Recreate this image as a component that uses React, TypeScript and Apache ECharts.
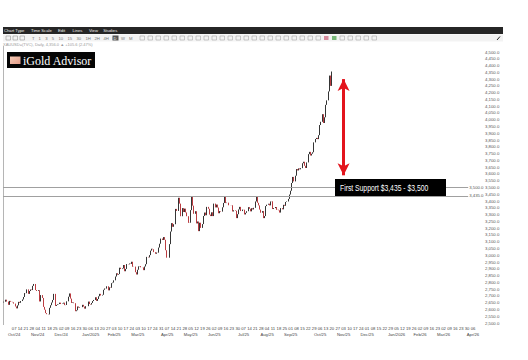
import React, { useEffect, useRef } from 'react';
import * as echarts from 'echarts';

// ---- data ----
const startDate = '2024-09-24';
const totalSessions = 408;
const firstOpen = 2652;

const closeSep24 = [2657, 2657, 2672, 2658, 2634];
const closeOct24 = [2663, 2657, 2656, 2653, 2643, 2622, 2608, 2630, 2656, 2649, 2662, 2674, 2692, 2721, 2720, 2748, 2715, 2736, 2747, 2743, 2774, 2788, 2743];
const closeNov24 = [2736, 2736, 2742, 2659, 2706, 2685, 2619, 2598, 2573, 2565, 2563, 2612, 2631, 2651, 2670, 2715, 2626, 2633, 2638, 2640, 2650];
const closeDec24 = [2640, 2643, 2650, 2632, 2633, 2660, 2694, 2718, 2680, 2648, 2652, 2646, 2587, 2594, 2622, 2613, 2617, 2617, 2634, 2621, 2606, 2624];
const closeJan25 = [2624, 2658, 2640, 2636, 2648, 2662, 2670, 2690, 2663, 2677, 2697, 2715, 2703, 2708, 2745, 2755, 2754, 2771, 2741, 2763, 2760, 2794, 2798];
const closeFeb25 = [2815, 2843, 2867, 2856, 2861, 2908, 2898, 2903, 2928, 2882, 2899, 2935, 2933, 2939, 2936, 2952, 2915, 2916, 2875, 2858];
const closeMar25 = [2893, 2918, 2920, 2911, 2910, 2890, 2917, 2934, 2988, 2984, 3001, 3034, 3048, 3044, 3023, 3011, 3020, 3019, 3057, 3085, 3123];
const closeApr25 = [3113, 3134, 3114, 3037, 2982, 2982, 3082, 3175, 3237, 3210, 3229, 3342, 3327, 3327, 3424, 3381, 3288, 3348, 3319, 3344, 3316, 3288];
const closeMay25 = [3239, 3240, 3333, 3430, 3366, 3306, 3325, 3235, 3249, 3178, 3240, 3202, 3230, 3290, 3315, 3295, 3357, 3343, 3300, 3289, 3317, 3289];
const closeJun25 = [3381, 3353, 3374, 3352, 3310, 3326, 3322, 3354, 3386, 3433, 3385, 3388, 3369, 3369, 3368, 3369, 3323, 3332, 3328, 3274, 3303];
const closeJul25 = [3338, 3357, 3326, 3337, 3336, 3301, 3313, 3325, 3355, 3343, 3324, 3347, 3338, 3350, 3397, 3431, 3387, 3368, 3337, 3314, 3326, 3274, 3289];
const closeAug25 = [3363, 3373, 3380, 3368, 3397, 3398, 3341, 3348, 3356, 3335, 3336, 3332, 3315, 3348, 3339, 3372, 3365, 3393, 3397, 3416, 3448];
const closeSep25 = [3476, 3533, 3578, 3545, 3587, 3636, 3626, 3641, 3634, 3643, 3679, 3690, 3660, 3644, 3685, 3746, 3763, 3736, 3749, 3760, 3833, 3858];
const closeOct25 = [3866, 3857, 3886, 3961, 3985, 4041, 3976, 4018, 4110, 4143, 4209, 4326, 4250, 4356];

const supportLevels = [3500, 3435];
const supportText = 'First Support $3,435 - $3,500';
const arrowDate = '2025-11-03';
const arrowRange = [4300, 3590];
const yMin = 2500;
const yMax = 4500;
const yStep = 50;

const menuItems = ['Chart Type', 'Time Scale', 'Edit', 'Lines', 'View', 'Studies'];
const intervalItems = ['T', '1', '3', '5', '10', '15', '30', '1H', '2H', '4H', '8H'];
const monthNames = ['Jan', 'Feb', 'Mar', 'Apr', 'May', 'Jun', 'Jul', 'Aug', 'Sep', 'Oct', 'Nov', 'Dec'];
const symbolLine = 'XAUUSD=(TVC), Daily, 4,356.0 \u25B2 +105.6 (2.47%)';
const logoText = 'iGold Advisor';

const closes = [
  ...closeSep24, ...closeOct24, ...closeNov24, ...closeDec24, ...closeJan25, ...closeFeb25,
  ...closeMar25, ...closeApr25, ...closeMay25, ...closeJun25, ...closeJul25, ...closeAug25,
  ...closeSep25, ...closeOct25,
];

function buildSessions(start: string, count: number): string[] {
  const out: string[] = [];
  const d = new Date(start + 'T00:00:00Z');
  while (out.length < count) {
    const wd = d.getUTCDay();
    if (wd !== 0 && wd !== 6) out.push(d.toISOString().slice(0, 10));
    d.setUTCDate(d.getUTCDate() + 1);
  }
  return out;
}

const fmt = (v: number) =>
  v.toLocaleString('en-US', { minimumFractionDigits: 1, maximumFractionDigits: 1 });

export default function App() {
  const ref = useRef<HTMLDivElement>(null);

  useEffect(() => {
    if (!ref.current) return;
    const chart = echarts.init(ref.current, null, { renderer: 'svg' });
    const sessions = buildSessions(startDate, totalSessions);
    const candles = closes.map((c, i) => {
      const o = i === 0 ? firstOpen : closes[i - 1];
      return [o, c, Math.min(o, c), Math.max(o, c)];
    });
    const firstMondayIdx = sessions.findIndex(
      (s) => new Date(s + 'T00:00:00Z').getUTCDay() === 1
    );
    const lastClose = closes[closes.length - 1];

    const font = 'Liberation Sans';
    const graphics: any[] = [];
    // toolbar
    graphics.push({ type: 'rect', shape: { x: 3, y: 27, width: 500, height: 7 }, style: { fill: '#262626' } });
    let mx = 4;
    menuItems.forEach((m) => {
      graphics.push({ type: 'text', x: mx, y: 30.5, style: { text: m, fill: '#eee', fontSize: 4.2, fontFamily: font, verticalAlign: 'middle' } });
      mx += m.length * 2.1 + 6;
    });
    graphics.push({ type: 'rect', shape: { x: 3, y: 34.5, width: 500, height: 7 }, style: { fill: '#f3f3f3' } });
    [6, 13, 20].forEach((x) => {
      graphics.push({ type: 'rect', shape: { x, y: 36, width: 4.5, height: 4 }, style: { fill: 'none', stroke: '#999', lineWidth: 0.6 } });
    });
    let ix = 32;
    intervalItems.forEach((t) => {
      graphics.push({ type: 'text', x: ix, y: 38, style: { text: t, fill: '#777', fontSize: 4.2, fontFamily: font, verticalAlign: 'middle' } });
      ix += t.length * 2.4 + 4.2;
    });
    graphics.push({ type: 'rect', shape: { x: 112.5, y: 35.5, width: 6, height: 5 }, style: { fill: '#555' } });
    graphics.push({ type: 'text', x: 113.5, y: 38, style: { text: 'D', fill: '#fff', fontSize: 4, fontFamily: font, verticalAlign: 'middle' } });
    graphics.push({ type: 'text', x: 121, y: 38, style: { text: 'W', fill: '#777', fontSize: 4.2, fontFamily: font, verticalAlign: 'middle' } });
    graphics.push({ type: 'text', x: 129, y: 38, style: { text: 'M', fill: '#777', fontSize: 4.2, fontFamily: font, verticalAlign: 'middle' } });
    for (let x = 140; x <= 376; x += 8) {
      const special = x === 324 ? '#d78b9c' : x === 332 ? '#79b879' : null;
      graphics.push({
        type: 'rect',
        shape: { x, y: 36, width: 4.5, height: 4 },
        style: special ? { fill: special } : { fill: 'none', stroke: '#aaa', lineWidth: 0.6 },
      });
    }
    graphics.push({ type: 'line', shape: { x1: 497, y1: 40, x2: 500, y2: 36.5 }, style: { stroke: '#222', lineWidth: 1 } });
    graphics.push({ type: 'text', x: 3, y: 44.5, style: { text: symbolLine, fill: '#999', fontSize: 4, fontFamily: font, verticalAlign: 'middle' } });
    // logo
    graphics.push({ type: 'rect', shape: { x: 7, y: 52, width: 88, height: 16 }, style: { fill: '#050505' } });
    graphics.push({
      type: 'rect',
      shape: { x: 10, y: 56.5, width: 10.5, height: 7.5 },
      style: {
        fill: new echarts.graphic.LinearGradient(0, 0, 1, 1, [
          { offset: 0, color: '#f6cdb8' },
          { offset: 1, color: '#e39a86' },
        ]),
      },
    });
    graphics.push({ type: 'text', x: 23, y: 60.5, style: { text: logoText, fill: '#fff', fontSize: 12, fontFamily: 'Liberation Serif', verticalAlign: 'middle' } });
    // plot left border
    graphics.push({ type: 'line', shape: { x1: 3.5, y1: 46, x2: 3.5, y2: 325 }, style: { stroke: '#b5b5b5', lineWidth: 1 } });
    // annotation box (above the support lines)
    graphics.push({ type: 'rect', z: 200, shape: { x: 335, y: 179, width: 111, height: 17 }, style: { fill: '#000' } });
    graphics.push({
      type: 'group',
      z: 201,
      x: 340,
      y: 187.8,
      scaleX: 0.79,
      children: [
        { type: 'text', z: 201, x: 0, y: 0, style: { text: supportText, fill: '#fff', fontSize: 8.6, fontFamily: font, verticalAlign: 'middle' } },
      ],
    });

    chart.setOption({
      animation: false,
      backgroundColor: '#fff',
      grid: { left: 3, right: 45, top: 52, bottom: 37 },
      xAxis: {
        type: 'category',
        data: sessions,
        boundaryGap: true,
        axisLine: { show: false },
        axisTick: { show: false },
        splitLine: { show: false },
        axisLabel: {
          margin: 3,
          interval: (idx: number, val: string) => new Date(val + 'T00:00:00Z').getUTCDay() === 1,
          formatter: (val: string, idx: number) => {
            const d = new Date(val + 'T00:00:00Z');
            const day = String(d.getUTCDate()).padStart(2, '0');
            if (d.getUTCDate() <= 7 || idx === firstMondayIdx) {
              const yr = d.getUTCFullYear();
              const mon = d.getUTCMonth();
              const ml = mon === 0 ? `${monthNames[mon]}/${yr}` : `${monthNames[mon]}/${String(yr).slice(2)}`;
              return `{d|${day}}\n{m|${ml}}`;
            }
            return `{d|${day}}`;
          },
          rich: {
            d: { fontSize: 4.2, lineHeight: 5.5, color: '#444', fontFamily: font },
            m: { fontSize: 4.2, lineHeight: 6, color: '#444', fontFamily: font },
          },
        },
      },
      yAxis: {
        type: 'value',
        position: 'right',
        min: yMin,
        max: yMax,
        interval: yStep,
        scale: true,
        axisLine: { show: false },
        axisTick: { show: false },
        splitLine: { show: false },
        axisLabel: {
          margin: 2,
          fontSize: 4.3,
          color: '#555',
          fontFamily: font,
          formatter: (v: number) => fmt(v),
        },
      },
      series: [
        {
          type: 'candlestick',
          data: candles,
          barWidth: 0.6,
          itemStyle: {
            color: '#1e1e1e',
            color0: '#b3262b',
            borderColor: '#1e1e1e',
            borderColor0: '#b3262b',
            borderWidth: 0.9,
          },
          markLine: {
            silent: true,
            symbol: 'none',
            lineStyle: { color: '#a0a0a0', width: 1, type: 'solid' },
            label: {
              position: 'insideEndTop',
              fontSize: 4.3,
              color: '#555',
              fontFamily: font,
              backgroundColor: '#fff',
              padding: [0, 1],
              distance: -1.5,
            },
            data: supportLevels.map((v) => ({ yAxis: v, label: { formatter: fmt(v) } })),
          },
        },
        {
          type: 'line',
          data: [],
          markLine: {
            silent: true,
            symbol: ['arrow', 'arrow'],
            symbolSize: [9, 12],
            lineStyle: { color: '#e3141c', width: 3, type: 'solid' },
            label: { show: false },
            data: [[{ coord: [arrowDate, arrowRange[0]] }, { coord: [arrowDate, arrowRange[1]] }]],
          },
        },
        {
          type: 'line',
          data: [],
          markLine: {
            silent: true,
            symbol: 'none',
            lineStyle: { opacity: 0 },
            label: {
              position: 'end',
              distance: 2,
              fontSize: 4.3,
              color: '#fff',
              fontFamily: font,
              backgroundColor: '#555',
              padding: [1, 1],
              formatter: fmt(lastClose),
            },
            data: [{ yAxis: lastClose }],
          },
        },
      ],
      graphic: graphics,
    });

    return () => chart.dispose();
  }, []);

  return (
    <div
      ref={ref}
      style={{ position: 'fixed', left: 0, top: 0, width: 528, height: 360, background: '#fff' }}
    />
  );
}
